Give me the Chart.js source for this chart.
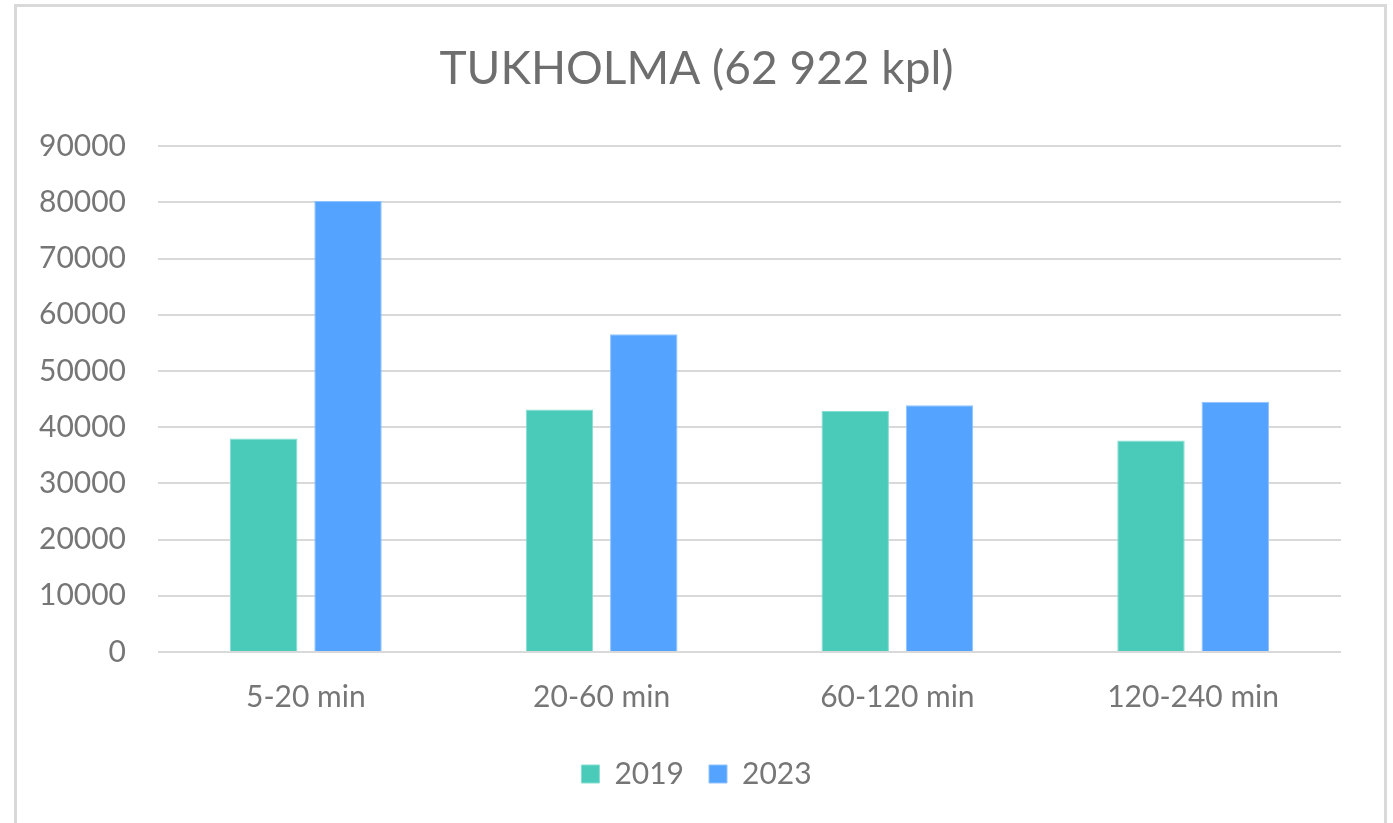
<!DOCTYPE html>
<html>
<head>
<meta charset="utf-8">
<script src="https://cdn.jsdelivr.net/npm/chart.js@4.4.0/dist/chart.umd.min.js"></script>
<style>
  html, body { margin: 0; padding: 0; background: #fff; overflow: hidden; }
  #wrap { position: relative; width: 1393px; height: 823px; }
  #frame {
    position: absolute; left: 14px; top: 4px; width: 1367px; height: 900px;
    border: 3px solid #D9D9D9; pointer-events: none;
  }
</style>
</head>
<body>
<div id="wrap">
  <canvas id="chart" width="1393" height="823"></canvas>
  <div id="frame"></div>
</div>
<script>
const categories = ['5-20 min', '20-60 min', '60-120 min', '120-240 min'];
const values2019 = [38000, 43150, 42900, 37650];
const values2023 = [80250, 56550, 43900, 44550];
const yTicks = [0, 10000, 20000, 30000, 40000, 50000, 60000, 70000, 80000, 90000];

const textColor = '#767676';
const fontFamily = 'Lato, "Open Sans", sans-serif';

const ctx = document.getElementById('chart').getContext('2d');

new Chart(ctx, {
  type: 'bar',
  data: {
    labels: categories,
    datasets: [
      {
        label: '2019',
        data: values2019,
        backgroundColor: '#4ACBBA',
        borderColor: '#86DDD1',
        borderWidth: 1
      },
      {
        label: '2023',
        data: values2023,
        backgroundColor: '#54A3FF',
        borderColor: '#8FC3FF',
        borderWidth: 1
      }
    ]
  },
  options: {
    responsive: false,
    animation: false,
    layout: { padding: { left: 0, right: 0, top: 0, bottom: 24 } },
    categoryPercentage: 0.57,
    barPercentage: 0.8,
    plugins: {
      title: {
        display: true,
        text: 'TUKHOLMA (62 922 kpl)',
        color: '#6E6E6E',
        font: { family: fontFamily, size: 46, weight: 'normal' },
        padding: { top: 42, bottom: 49 }
      },
      legend: {
        position: 'bottom',
        labels: {
          color: textColor,
          font: { family: fontFamily, size: 30 },
          boxWidth: 18,
          boxHeight: 18,
          padding: 25
        }
      },
      tooltip: { enabled: false }
    },
    scales: {
      x: {
        grid: { display: false },
        border: { display: false },
        ticks: {
          color: textColor,
          font: { family: fontFamily, size: 30 },
          padding: 19
        }
      },
      y: {
        min: 0,
        max: 90000,
        afterBuildTicks: (scale) => {
          scale.ticks = yTicks.map(v => ({ value: v }));
        },
        afterFit: (scale) => { scale.width = 158; },
        grid: { color: '#D9D9D9', lineWidth: 2, drawTicks: false },
        border: { display: false },
        ticks: {
          color: textColor,
          font: { family: fontFamily, size: 30 },
          padding: 32,
          callback: (v) => String(v)
        }
      },
      // empty right-hand spacer so the title and legend stay centred on the whole frame
      spacer: {
        type: 'linear',
        position: 'right',
        display: true,
        grid: { display: false },
        border: { display: false },
        ticks: { display: false },
        afterFit: (scale) => { scale.width = 52; }
      }
    }
  }
});
</script>
</body>
</html>
